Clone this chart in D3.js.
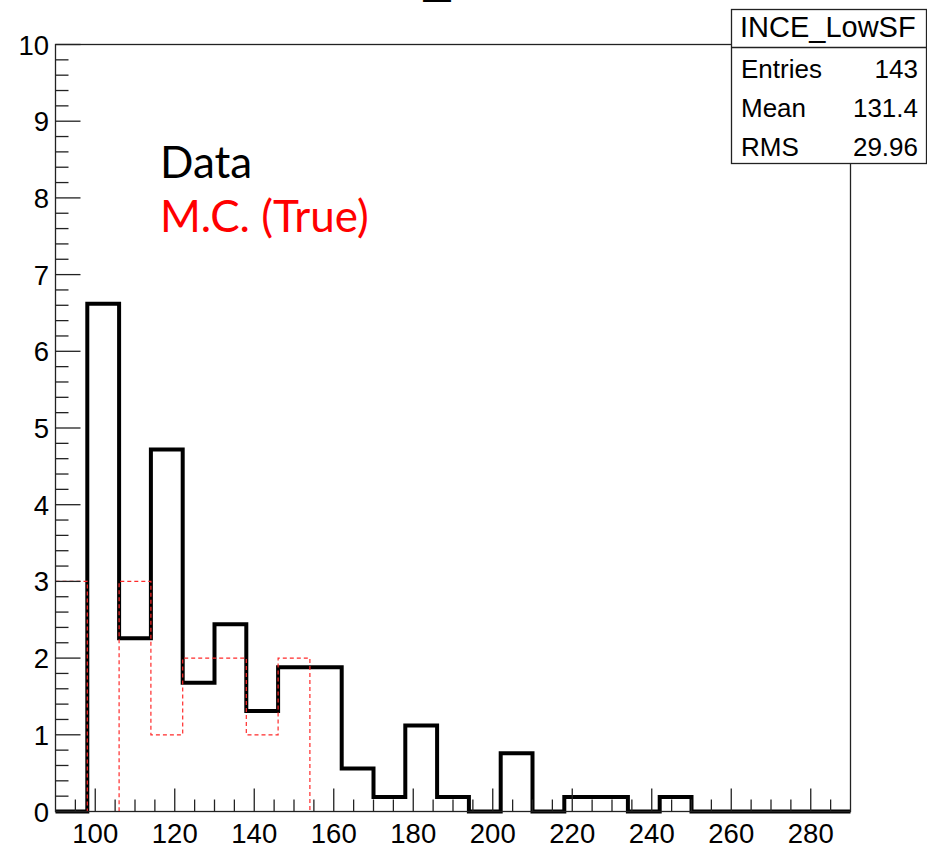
<!DOCTYPE html>
<html>
<head>
<meta charset="utf-8">
<script src="https://cdn.jsdelivr.net/npm/d3@7"></script>
<style>
  html, body { margin: 0; padding: 0; background: #fff; }
  svg { display: block; }
</style>
</head>
<body>
<script>
// ---- data ----
const binEdges = [90, 98, 106, 114, 122, 130, 138, 146, 154, 162, 170, 178, 186, 194, 202, 210, 218, 226, 234, 242, 250, 258, 266, 274, 282, 290];
const dataCounts = [0, 6.62, 2.26, 4.72, 1.68, 2.44, 1.31, 1.88, 1.88, 0.56, 0.19, 1.12, 0.19, 0, 0.76, 0, 0.19, 0.19, 0, 0.19, 0, 0, 0, 0, 0];
const mcCounts = [3, 0, 3, 1, 2, 2, 1, 2, 0, 0, 0, 0, 0, 0, 0, 0, 0, 0, 0, 0, 0, 0, 0, 0, 0];
const xMajorTicks = [100, 120, 140, 160, 180, 200, 220, 240, 260, 280];
const yMajorTicks = [0, 1, 2, 3, 4, 5, 6, 7, 8, 9, 10];
const statsTitle = "INCE_LowSF";
const statsLabels = ["Entries", "Mean", "RMS"];
const statsValues = ["143", "131.4", "29.96"];
const legendLabels = ["Data", "M.C. (True)"];
const legendColors = ["#000000", "#ff0000"];

// ---- layout ----
const W = 927, H = 856;
const frame = { left: 55.5, right: 850.5, top: 44.5, bottom: 811.5 };
const tickFont = "Liberation Sans, Arial, sans-serif";

const svg = d3.select("body").append("svg").attr("width", W).attr("height", H);

const x = d3.scaleLinear().domain([binEdges[0], binEdges[binEdges.length - 1]]).range([frame.left, frame.right]);
const y = d3.scaleLinear().domain([0, 10]).range([frame.bottom, frame.top]);

// title (mostly cut off at the top of the picture)
svg.append("text")
  .attr("x", 309).attr("y", -8)
  .attr("font-family", tickFont)
  .attr("font-size", 48)
  .attr("fill", "#000")
  .text(statsTitle);

// step histogram helper
function stepPoints(counts) {
  const pts = counts.map((v, i) => [binEdges[i], v]);
  pts.push([binEdges[binEdges.length - 1], counts[counts.length - 1]]);
  return pts;
}
const stepLine = d3.line().x(d => x(d[0])).y(d => y(d[1])).curve(d3.curveStepAfter);

// data histogram
svg.append("path")
  .attr("d", stepLine(stepPoints(dataCounts)))
  .attr("fill", "none")
  .attr("stroke", "#000")
  .attr("stroke-width", 4)
  .attr("stroke-linejoin", "miter");

// MC histogram (dashed red, on top)
svg.append("path")
  .attr("d", stepLine(stepPoints(mcCounts)))
  .attr("fill", "none")
  .attr("stroke", "#ff2a2a")
  .attr("stroke-width", 1.2)
  .attr("stroke-dasharray", "4,3");

// frame
const axisColor = "#222";
svg.append("rect")
  .attr("x", frame.left).attr("y", frame.top)
  .attr("width", frame.right - frame.left).attr("height", frame.bottom - frame.top)
  .attr("fill", "none").attr("stroke", axisColor).attr("stroke-width", 1.3);

// x ticks
const xMinor = d3.range(binEdges[0] + 5, binEdges[binEdges.length - 1], 5).filter(v => !xMajorTicks.includes(v));
const gx = svg.append("g");
gx.selectAll("line.minor").data(xMinor).join("line")
  .attr("x1", d => x(d)).attr("x2", d => x(d))
  .attr("y1", frame.bottom).attr("y2", frame.bottom - 12)
  .attr("stroke", axisColor).attr("stroke-width", 1.3);
gx.selectAll("line.major").data(xMajorTicks).join("line")
  .attr("x1", d => x(d)).attr("x2", d => x(d))
  .attr("y1", frame.bottom).attr("y2", frame.bottom - 23)
  .attr("stroke", axisColor).attr("stroke-width", 1.3);
gx.selectAll("text").data(xMajorTicks).join("text")
  .attr("x", d => x(d)).attr("y", 843)
  .attr("text-anchor", "middle")
  .attr("font-family", tickFont)
  .attr("font-size", 27.5)
  .attr("fill", "#000")
  .text(d => d);

// y ticks
const yMinor = d3.range(0, 10.0001, 0.2).map(v => +v.toFixed(1)).filter(v => !yMajorTicks.includes(v));
const gy = svg.append("g");
gy.selectAll("line.minor").data(yMinor).join("line")
  .attr("x1", frame.left).attr("x2", frame.left + 13)
  .attr("y1", d => y(d)).attr("y2", d => y(d))
  .attr("stroke", axisColor).attr("stroke-width", 1.3);
gy.selectAll("line.major").data(yMajorTicks).join("line")
  .attr("x1", frame.left).attr("x2", frame.left + 25)
  .attr("y1", d => y(d)).attr("y2", d => y(d))
  .attr("stroke", axisColor).attr("stroke-width", 1.3);
gy.selectAll("text").data(yMajorTicks).join("text")
  .attr("x", 49).attr("y", d => y(d) + 10)
  .attr("text-anchor", "end")
  .attr("font-family", tickFont)
  .attr("font-size", 27.5)
  .attr("fill", "#000")
  .text(d => d);

// legend text
svg.selectAll("text.legend").data(legendLabels).join("text")
  .attr("class", "legend")
  .attr("x", 160).attr("y", (d, i) => 178 + i * 54)
  .attr("font-family", "Lato, 'Open Sans', sans-serif")
  .attr("font-size", 44)
  .attr("fill", (d, i) => legendColors[i])
  .text(d => d);

// stats box
const box = { x: 731.5, y: 9.5, w: 195, h: 154, sep: 47.5 };
const gs = svg.append("g");
gs.append("rect")
  .attr("x", box.x).attr("y", box.y).attr("width", box.w).attr("height", box.h)
  .attr("fill", "#fff").attr("stroke", axisColor).attr("stroke-width", 1.3);
gs.append("line")
  .attr("x1", box.x).attr("x2", box.x + box.w)
  .attr("y1", box.sep).attr("y2", box.sep)
  .attr("stroke", axisColor).attr("stroke-width", 1.3);
gs.append("text")
  .attr("x", 740).attr("y", 37)
  .attr("font-family", tickFont)
  .attr("font-size", 29)
  .attr("fill", "#000")
  .text(statsTitle);
gs.selectAll("text.lab").data(statsLabels).join("text")
  .attr("class", "lab")
  .attr("x", 741).attr("y", (d, i) => 78 + i * 39)
  .attr("font-family", tickFont)
  .attr("font-size", 26)
  .attr("fill", "#000")
  .text(d => d);
gs.selectAll("text.val").data(statsValues).join("text")
  .attr("class", "val")
  .attr("x", 918).attr("y", (d, i) => 78 + i * 39)
  .attr("text-anchor", "end")
  .attr("font-family", tickFont)
  .attr("font-size", 26)
  .attr("fill", "#000")
  .text(d => d);
</script>
</body>
</html>
